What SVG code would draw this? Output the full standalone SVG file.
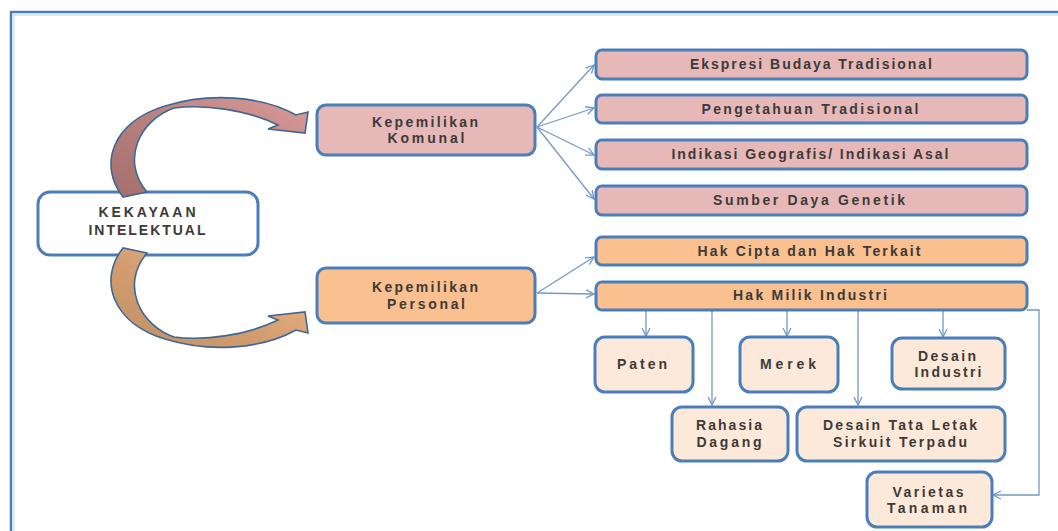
<svg xmlns="http://www.w3.org/2000/svg" width="1058" height="531" viewBox="0 0 1058 531">
<defs>
<style>
.bx{stroke:#4a7ebb;stroke-width:3}
.kom{fill:#e6b9b8}
.per{fill:#fac090}
.sub{fill:#fde9d9}
.t{font-family:"Liberation Sans",Arial,sans-serif;font-weight:bold;font-size:14px;fill:#3d3a38;text-anchor:middle}
.c{fill:none;stroke:#7399c6;stroke-width:1.3}
</style>
<marker id="ah" viewBox="0 0 10 10" refX="9" refY="5" markerWidth="10" markerHeight="10" markerUnits="userSpaceOnUse" orient="auto">
<path d="M1,1 L9,5 L1,9" fill="none" stroke="#7399c6" stroke-width="1.3"/>
</marker>
<linearGradient id="g1" x1="0" y1="1" x2="1" y2="0">
<stop offset="0" stop-color="#a56f6e"/>
<stop offset="0.45" stop-color="#b57f7e"/>
<stop offset="1" stop-color="#dc9a98"/>
</linearGradient>
<linearGradient id="g2" x1="0" y1="0" x2="1" y2="1">
<stop offset="0" stop-color="#bf8f67"/>
<stop offset="0.45" stop-color="#d39d6f"/>
<stop offset="1" stop-color="#fac090"/>
</linearGradient>
</defs>
<rect x="0" y="0" width="1058" height="531" fill="#fff"/>
<path d="M11 531 L11 12 L1058 12" fill="none" stroke="#4a7ebb" stroke-width="2.5"/>
<path d="M14 531 L14 15 L1058 15" fill="none" stroke="#dce8f5" stroke-width="2"/>

<g id="connectors">
<path class="c" d="M537 127 L594 65" marker-end="url(#ah)"/>
<path class="c" d="M537 127 L594 108" marker-end="url(#ah)"/>
<path class="c" d="M537 127 L594 155" marker-end="url(#ah)"/>
<path class="c" d="M537 127 L594 199" marker-end="url(#ah)"/>
<path class="c" d="M537 293 L594 257" marker-end="url(#ah)"/>
<path class="c" d="M537 293 L594 294" marker-end="url(#ah)"/>
<path class="c" d="M646 311 L646 336" marker-end="url(#ah)"/>
<path class="c" d="M712 311 L712 405" marker-end="url(#ah)"/>
<path class="c" d="M787 311 L787 336" marker-end="url(#ah)"/>
<path class="c" d="M858 311 L858 405" marker-end="url(#ah)"/>
<path class="c" d="M943 311 L943 337" marker-end="url(#ah)"/>
<path class="c" d="M1027 310 L1039 310 L1039 495 L993 495" marker-end="url(#ah)"/>
</g>

<g id="kekayaan">
<rect class="bx" x="38" y="192" width="220" height="63" rx="12" fill="#fff" stroke-width="2.5"/>
<text class="t" x="147" y="217" font-size="12" textLength="97" lengthAdjust="spacing">KEKAYAAN</text>
<text class="t" x="147" y="235" font-size="12" textLength="117" lengthAdjust="spacing">INTELEKTUAL</text>
</g>

<g id="arrow-top">
<path d="M123 197 C98 165 112 122 165 106 C210 92 262 96 296 115 L308 112 L305 133 L268 129 L278 125 C248 110 205 104 174 108 C140 120 120 160 147 192 Z" fill="url(#g1)" stroke="#3f6796" stroke-width="1.6" stroke-linejoin="miter"/>
</g>
<g id="arrow-bottom" transform="translate(0 445) scale(1 -1)">
<path d="M123 197 C98 165 112 122 165 106 C210 92 262 96 296 115 L308 112 L305 133 L268 129 L278 125 C248 110 205 104 174 108 C140 120 120 160 147 192 Z" fill="url(#g2)" stroke="#3f6796" stroke-width="1.6"/>
</g>

<g id="komunal">
<rect class="bx kom" x="317" y="105" width="218" height="50" rx="9"/>
<text class="t" x="425" y="127" textLength="106" lengthAdjust="spacing">Kepemilikan</text>
<text class="t" x="426" y="143" textLength="77" lengthAdjust="spacing">Komunal</text>
</g>
<g id="personal">
<rect class="bx per" x="317" y="268" width="218" height="55" rx="9"/>
<text class="t" x="425" y="292" textLength="106" lengthAdjust="spacing">Kepemilikan</text>
<text class="t" x="426" y="309" textLength="78" lengthAdjust="spacing">Personal</text>
</g>

<g id="ekspresi">
<rect class="bx kom" x="596" y="50" width="431" height="29" rx="6"/>
<text class="t" x="811" y="69" textLength="242" lengthAdjust="spacing">Ekspresi Budaya Tradisional</text>
</g>
<g id="pengetahuan">
<rect class="bx kom" x="596" y="95" width="431" height="28" rx="6"/>
<text class="t" x="810" y="114" textLength="217" lengthAdjust="spacing">Pengetahuan Tradisional</text>
</g>
<g id="indikasi">
<rect class="bx kom" x="596" y="140" width="431" height="29" rx="6"/>
<text class="t" x="810" y="159" textLength="277" lengthAdjust="spacing">Indikasi Geografis/ Indikasi Asal</text>
</g>
<g id="sumber">
<rect class="bx kom" x="596" y="186" width="431" height="29" rx="6"/>
<text class="t" x="809" y="205" textLength="192" lengthAdjust="spacing">Sumber Daya Genetik</text>
</g>
<g id="hakcipta">
<rect class="bx per" x="596" y="237" width="431" height="28" rx="6"/>
<text class="t" x="809" y="256" textLength="223" lengthAdjust="spacing">Hak Cipta dan Hak Terkait</text>
</g>
<g id="hakmilik">
<rect class="bx per" x="596" y="282" width="431" height="28" rx="6"/>
<text class="t" x="810" y="300" textLength="154" lengthAdjust="spacing">Hak Milik Industri</text>
</g>

<g id="paten">
<rect class="bx sub" x="595" y="337" width="98" height="55" rx="10"/>
<text class="t" x="642" y="369" textLength="50" lengthAdjust="spacing">Paten</text>
</g>
<g id="merek">
<rect class="bx sub" x="740" y="337" width="98" height="55" rx="10"/>
<text class="t" x="788" y="369" textLength="56" lengthAdjust="spacing">Merek</text>
</g>
<g id="desainindustri">
<rect class="bx sub" x="892" y="338" width="113" height="51" rx="10"/>
<text class="t" x="947" y="361" textLength="58" lengthAdjust="spacing">Desain</text>
<text class="t" x="948" y="377" textLength="67" lengthAdjust="spacing">Industri</text>
</g>
<g id="rahasia">
<rect class="bx sub" x="672" y="407" width="116" height="54" rx="10"/>
<text class="t" x="729" y="430" textLength="66" lengthAdjust="spacing">Rahasia</text>
<text class="t" x="729" y="447" textLength="65" lengthAdjust="spacing">Dagang</text>
</g>
<g id="desaintata">
<rect class="bx sub" x="797" y="407" width="208" height="54" rx="10"/>
<text class="t" x="900" y="430" textLength="154" lengthAdjust="spacing">Desain Tata Letak</text>
<text class="t" x="900" y="447" textLength="134" lengthAdjust="spacing">Sirkuit Terpadu</text>
</g>
<g id="varietas">
<rect class="bx sub" x="867" y="472" width="125" height="55" rx="10"/>
<text class="t" x="928" y="497" textLength="71" lengthAdjust="spacing">Varietas</text>
<text class="t" x="927" y="513" textLength="80" lengthAdjust="spacing">Tanaman</text>
</g>
</svg>
